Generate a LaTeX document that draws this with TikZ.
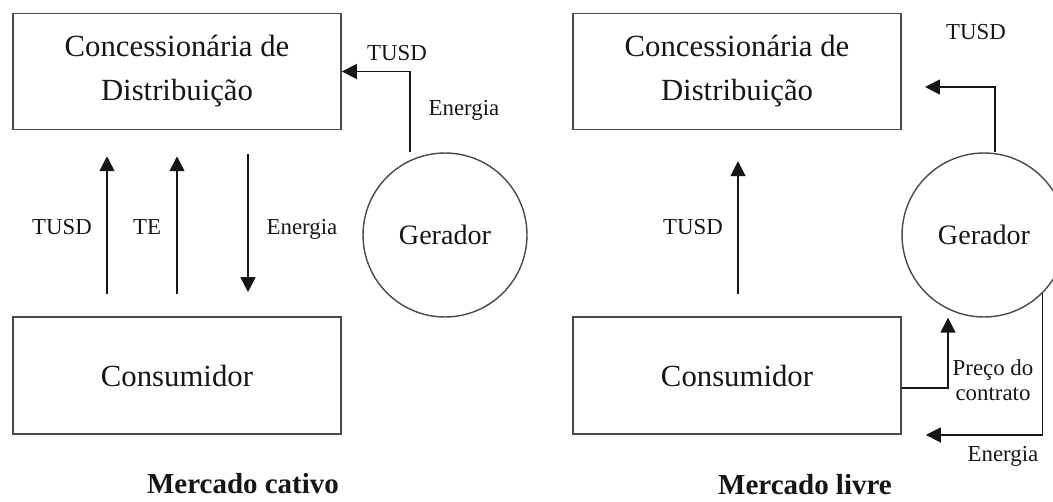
\documentclass[tikz,border=0pt]{standalone}
\usepackage{fontspec}
\setmainfont{Liberation Serif}
\usetikzlibrary{arrows.meta}
\definecolor{ink}{HTML}{161616}
\definecolor{edge}{HTML}{4A4A4A}
\tikzset{
  entity/.style={draw=edge, line width=1.1pt, minimum width=6.56cm, minimum height=2.32cm,
                 align=center, font=\fontsize{17.5}{25}\selectfont, text=ink, inner sep=0pt},
  agent/.style={circle, draw=edge, line width=0.8pt, minimum size=3.28cm,
                font=\fontsize{16}{19}\selectfont, text=ink, inner sep=0pt},
  flow/.style={-{Triangle[length=8.5pt,width=8.5pt]}, line width=1pt, draw=ink},
  tag/.style={font=\fontsize{13}{14}\selectfont, text=ink, inner sep=0pt, align=center},
  caption/.style={font=\fontsize{16.5}{18}\selectfont\bfseries, text=ink, inner sep=0pt},
}

\begin{document}
\begin{tikzpicture}[x=0.02cm, y=-0.02cm]
\useasboundingbox (0,0) rectangle (1053,502);

% ---------------- mercado cativo ----------------
\node[entity] (dist1) at (177,71.5) {Concessionária de\\Distribuição};
\node[entity, minimum height=2.34cm] (cons1) at (177,375.5) {Consumidor};
\node[agent] (gen1) at (445,235) {Gerador};

\coordinate (c1a) at (107,0);
\coordinate (c1b) at (177,0);
\coordinate (c1c) at (248,0);
\coordinate (g1) at (410,0);

\draw[flow, shorten <=12.5pt, shorten >=14.7pt] (cons1.north -| c1a) -- (dist1.south -| c1a);
\draw[flow, shorten <=12.5pt, shorten >=14.7pt] (cons1.north -| c1b) -- (dist1.south -| c1b);
\draw[flow, shorten <=13.6pt, shorten >=13.6pt] (dist1.south -| c1c) -- (cons1.north -| c1c);
\draw[flow] (gen1.north -| g1) |- (dist1.east);

\node[tag] (t1a) at (62,227) {TUSD};
\node[tag] (t1b) at (147,227) {TE};
\node[tag] (t1c) at (302,229) {Energia};
\node[tag] (t1g) at (397,53) {TUSD};
\node[tag] (t1e) at (464,110) {Energia};

\node[caption] (cap1) at (243,484) {Mercado cativo};

% ---------------- mercado livre ----------------
\node[entity] (dist2) at (737,71.5) {Concessionária de\\Distribuição};
\node[entity, minimum height=2.34cm] (cons2) at (737,375.5) {Consumidor};
\node[agent] (gen2) at (984,235) {Gerador};

\coordinate (c2a) at (738,0);
\coordinate (g2) at (995,0);
\coordinate (tip2) at (925,87);
\coordinate (pc) at (948,388);

\draw[flow, shorten <=12.5pt, shorten >=17.5pt] (cons2.north -| c2a) -- (dist2.south -| c2a);
\draw[flow] (gen2.north -| g2) |- (tip2);
\draw[flow] (cons2.east |- pc) -| (gen2.south -| pc);
\draw[flow] (gen2.-45) |- ([xshift=13.6pt]cons2.south east);

\node[tag] (t2a) at (693,227) {TUSD};
\node[tag] (t2g) at (976,32) {TUSD};
\node[tag, font=\fontsize{13}{14.2}\selectfont] (t2p) at (993,380) {Preço do\\contrato};
\node[tag] (t2e) at (1003,456) {Energia};

\node[caption] (cap2) at (805,485) {Mercado livre};

\end{tikzpicture}
\end{document}
